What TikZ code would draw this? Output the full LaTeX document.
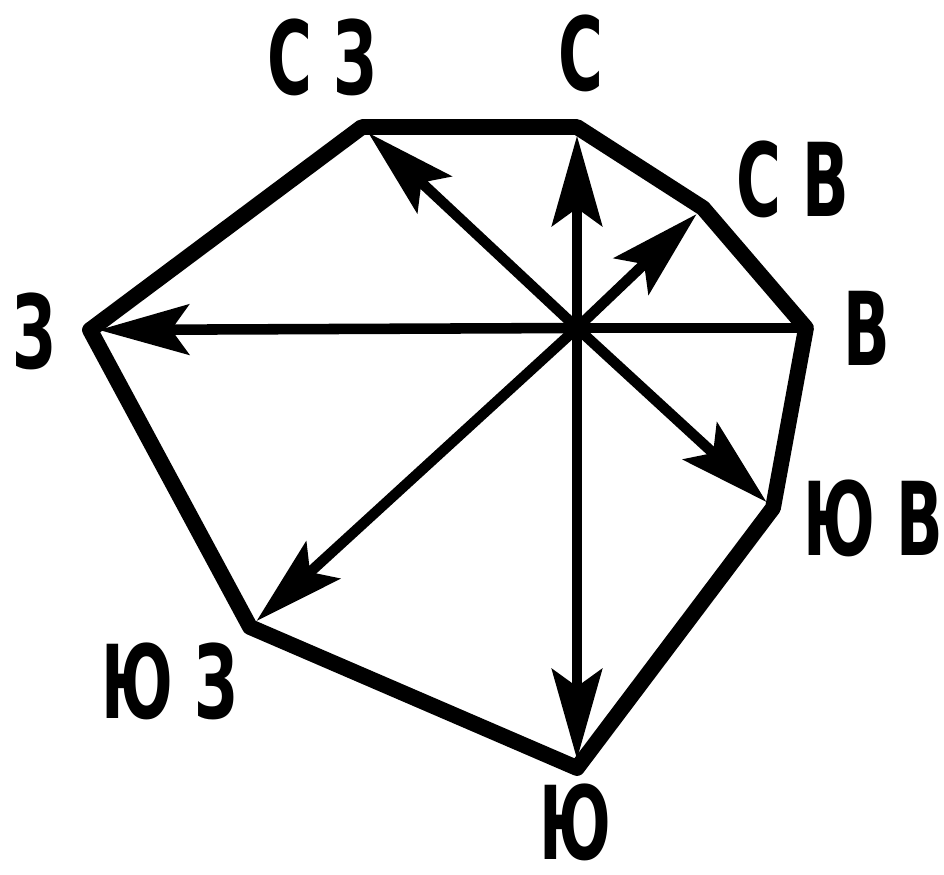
\documentclass[tikz,border=0pt]{standalone}
\usepackage{fontspec}
\newfontfamily\dirfont[FakeStretch=0.6]{DejaVu Sans}
\usetikzlibrary{arrows.meta}

\begin{document}
\begin{tikzpicture}[x=0.02cm,y=-0.02cm,
  rim/.style={line width=9pt,line join=round},
  ray/.style={line width=6pt},
  rayarrow/.style={ray,-{Stealth[length=1.8cm,width=1.0cm,inset=0.35cm]},shorten >=5pt},
  dirlabel/.style={font=\dirfont\bfseries\fontsize{58}{60}\selectfont,inner sep=0pt}]
\useasboundingbox (0,0) rectangle (944,875);
% centre and corners of the rose
\coordinate (O) at (577,328);
\coordinate (N) at (577,127);
\coordinate (NE) at (703,208);
\coordinate (E) at (806,328);
\coordinate (SE) at (773,508);
\coordinate (S) at (577,768);
\coordinate (SW) at (250,627);
\coordinate (W) at (90,330);
\coordinate (NW) at (362,127);

\draw[rim] (N) -- (NE) -- (E) -- (SE) -- (S) -- (SW) -- (W) -- (NW) -- cycle;

\draw[ray] (O) -- (E);
\foreach \d in {N,NE,SE,S,SW,W,NW}
  \draw[rayarrow] (O) -- (\d);

\node[dirlabel] (lblN) at (581,53) {С};
\node[dirlabel] (lblNW) at (322,57) {С З};
\node[dirlabel] (lblNE) at (793,179) {С В};
\node[dirlabel] (lblE) at (867,328) {В};
\node[dirlabel] (lblW) at (34,331) {З};
\node[dirlabel] (lblSE) at (873,518) {Ю В};
\node[dirlabel] (lblSW) at (170,681) {Ю З};
\node[dirlabel] (lblS) at (575,822) {Ю};
\end{tikzpicture}
\end{document}
